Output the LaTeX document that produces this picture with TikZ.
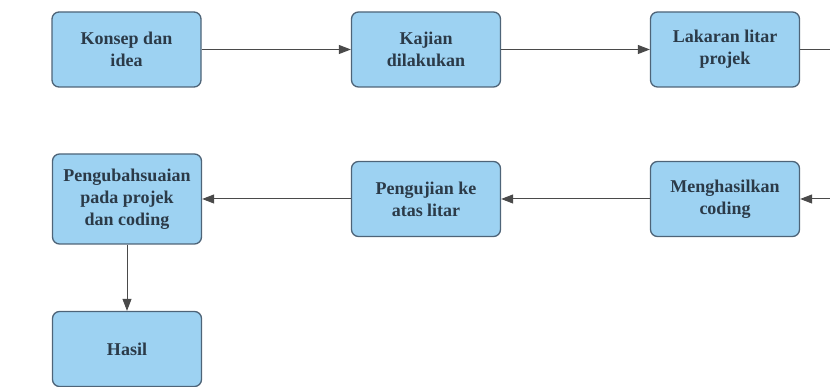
\documentclass[tikz,border=0pt]{standalone}
\usepackage{fontspec}
\setmainfont{Liberation Serif}
\usetikzlibrary{arrows.meta}
\definecolor{boxfill}{HTML}{9DD2F2}
\definecolor{boxline}{HTML}{4E6478}
\definecolor{txt}{HTML}{2B3A48}
\definecolor{conn}{HTML}{4A4A4A}
\begin{document}
\begin{tikzpicture}[x=1pt,y=1pt,
  flowbox/.style={draw=boxline, line width=1.3pt, fill=boxfill, rounded corners=7pt,
    minimum width=149pt, minimum height=75pt, inner sep=2pt, align=center,
    text=txt, font=\fontsize{18}{22}\selectfont\bfseries},
  conn/.style={draw=conn, line width=1pt},
  arr/.style={conn, -{Triangle[length=12pt,width=9pt]}}]
\useasboundingbox (0,0) rectangle (830,387);
\node[flowbox] (b1) at (126.5,337.5) {Konsep dan\\idea};
\node[flowbox] (b2) at (426,337.5) {Kajian\\dilakukan};
\node[flowbox] (b3) at (725,337.5) {Lakaran litar\\projek};
\node[flowbox] (b6) at (725,188) {Menghasilkan\\coding};
\node[flowbox] (b5) at (426,188) {Pengujian ke\\atas litar};
\node[flowbox, minimum height=90pt] (b4) at (127,188) {Pengubahsuaian\\pada projek\\dan coding};
\node[flowbox] (b7) at (127,38) {Hasil};
\coordinate (e1) at (830,337.5);
\coordinate (e2) at (830,188);
\draw[arr] (b1) -- (b2);
\draw[arr] (b2) -- (b3);
\draw[conn] (b3) -- (e1);
\draw[arr] (e2) -- (b6);
\draw[arr] (b6) -- (b5);
\draw[arr] (b5) -- (b4);
\draw[arr] (b4) -- (b7);
\end{tikzpicture}
\end{document}
